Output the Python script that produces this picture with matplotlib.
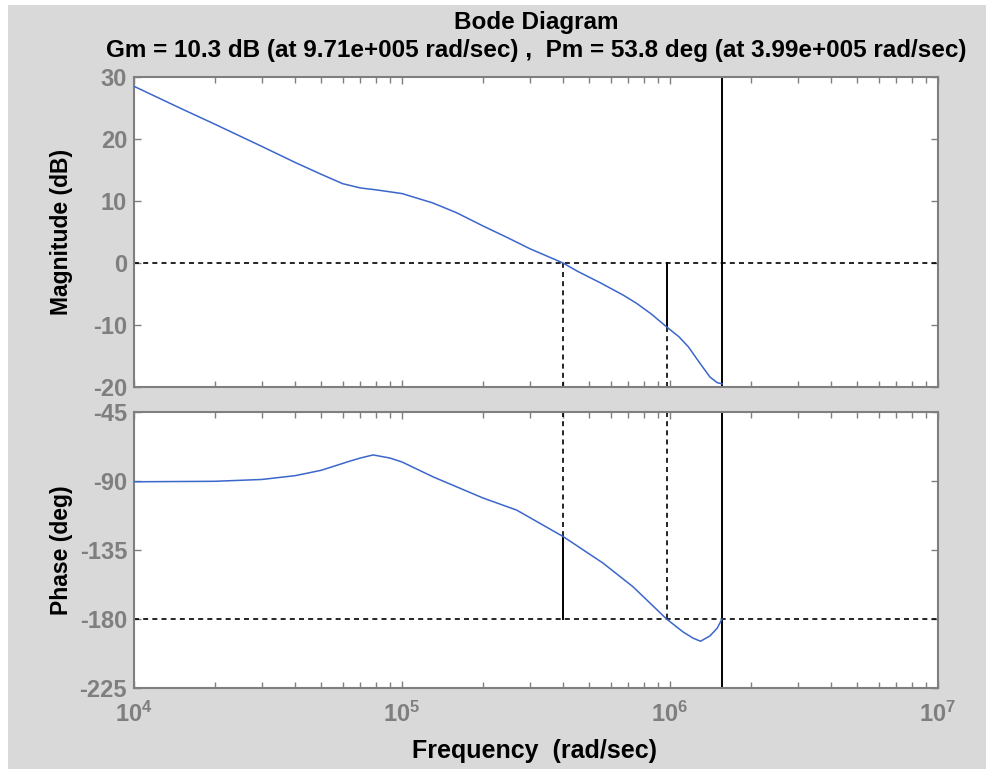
import matplotlib
matplotlib.use("Agg")
import matplotlib.pyplot as plt
from matplotlib.patches import Rectangle
import numpy as np

# Bode data (rad/sec, dB, deg)
freq_mag = [1e4, 1.5e4, 2e4, 3e4, 4e4, 5e4, 6e4, 7e4, 8e4, 1e5, 1.3e5, 1.6e5,
            2e5, 2.5e5, 3e5, 3.99e5, 4.5e5, 5.5e5, 6.7e5, 7.5e5, 8.5e5, 9.71e5,
            1.08e6, 1.17e6, 1.29e6, 1.41e6, 1.5e6, 1.563e6]
mag_db = [28.5, 24.9, 22.4, 18.8, 16.2, 14.3, 12.8, 12.1, 11.8, 11.2, 9.7, 8.1,
          6.0, 4.0, 2.3, 0.0, -1.3, -3.2, -5.2, -6.5, -8.2, -10.3,
          -11.9, -13.5, -16.1, -18.4, -19.3, -19.5]

freq_ph = [1e4, 2e4, 3e4, 4e4, 5e4, 6.4e4, 7e4, 7.8e4, 9e4, 1e5, 1.31e5, 2e5,
           2.68e5, 3.99e5, 5.62e5, 7.28e5, 9.71e5, 1.12e6, 1.22e6, 1.3e6,
           1.41e6, 1.5e6, 1.563e6]
phase_deg = [-90.5, -90.2, -89.0, -86.5, -83.0, -77.0, -75.0, -73.0, -75.0, -77.6,
             -87.4, -101.0, -109.0, -126.2, -143.5, -159.0, -180.0, -188.5,
             -192.5, -194.5, -191.0, -186.0, -180.0]

gm_db = 10.3
w_gm = 9.71e5
pm_deg = 53.8
w_pm = 3.99e5
w_end = 1.563e6

mag_ticks = [-20, -10, 0, 10, 20, 30]
ph_ticks = [-225, -180, -135, -90, -45]
x_ticks = [1e4, 1e5, 1e6, 1e7]
x_ticklabels = [r"$10^{4}$", r"$10^{5}$", r"$10^{6}$", r"$10^{7}$"]

plt.rcParams['font.family'] = ['Liberation Sans', 'DejaVu Sans']
plt.rcParams['mathtext.fontset'] = 'custom'
plt.rcParams['mathtext.rm'] = 'Liberation Sans:bold'
plt.rcParams['mathtext.it'] = 'Liberation Sans:bold'
plt.rcParams['axes.unicode_minus'] = False

GRIS = "#7f7f7f"
AZUL = "#3b66cc"
FONDO = "#d9d9d9"

fig = plt.figure(figsize=(9.87, 7.69), dpi=100)
fig.patch.set_facecolor("white")
fig.patches.append(Rectangle((8 / 987, 0), 1, 764 / 769, transform=fig.transFigure,
                             facecolor=FONDO, edgecolor="none", zorder=-10))

ax1 = fig.add_axes([134 / 987, 1 - 387 / 769, 804 / 987, 310 / 769])
ax2 = fig.add_axes([134 / 987, 1 - 688 / 769, 804 / 987, 276 / 769])

dash = (0, (3, 2.5))

# magnitud
ax1.plot(freq_mag, mag_db, color=AZUL, lw=1.1, zorder=3)
ax1.axhline(0, color="black", lw=1.2, ls=dash, zorder=2)
mag_pm = np.interp(np.log10(w_pm), np.log10(freq_mag), mag_db)
ax1.plot([w_pm, w_pm], [-20, mag_pm], color="black", lw=1.2, ls=dash, zorder=2)
ax1.plot([w_gm, w_gm], [0, -gm_db], color="black", lw=1.4, zorder=2)
ax1.plot([w_gm, w_gm], [-gm_db, -20], color="black", lw=1.2, ls=dash, zorder=2)
ax1.axvline(w_end, color="black", lw=1.4, zorder=2)
ax1.set_ylim(-20, 30)
ax1.set_yticks(mag_ticks)

# fase
ax2.plot(freq_ph, phase_deg, color=AZUL, lw=1.1, zorder=3)
ax2.axhline(-180, color="black", lw=1.2, ls=dash, zorder=2)
ph_pm = -180 + pm_deg
ax2.plot([w_pm, w_pm], [-45, ph_pm], color="black", lw=1.2, ls=dash, zorder=2)
ax2.plot([w_pm, w_pm], [ph_pm, -180], color="black", lw=1.4, zorder=2)
ax2.plot([w_gm, w_gm], [-45, -180], color="black", lw=1.2, ls=dash, zorder=2)
ax2.axvline(w_end, color="black", lw=1.4, zorder=2)
ax2.set_ylim(-225, -45)
ax2.set_yticks(ph_ticks)

for ax in (ax1, ax2):
    ax.set_xscale("log")
    ax.set_xlim(1e4, 1e7)
    ax.set_facecolor("white")
    for spine in ax.spines.values():
        spine.set_edgecolor(GRIS)
        spine.set_linewidth(1.5)
    ax.tick_params(which="both", direction="in", top=True, right=True,
                   color=GRIS, labelcolor=GRIS, labelsize=17, width=1.0)
    ax.tick_params(which="major", length=5, pad=5)
    ax.tick_params(which="minor", length=4)
    ax.set_xticks(x_ticks)
    for lbl in ax.get_yticklabels():
        lbl.set_fontweight("bold")

ax1.set_xticklabels([])
ax2.set_xticklabels(x_ticklabels)
ax2.tick_params(axis="x", which="major", pad=10)

fig.text(536 / 987, 1 - 23 / 769, "Bode Diagram", ha="center", va="center",
         fontsize=17.5, fontweight="bold")
fig.text(536 / 987, 1 - 50 / 769,
         "Gm = 10.3 dB (at 9.71e+005 rad/sec) ,  Pm = 53.8 deg (at 3.99e+005 rad/sec)",
         ha="center", va="center", fontsize=17.5, fontweight="bold")
fig.text(62 / 987, 1 - 232 / 769, "Magnitude (dB)", rotation=90, ha="center",
         va="center", fontsize=16.5, fontweight="bold")
fig.text(62 / 987, 1 - 550 / 769, "Phase (deg)", rotation=90, ha="center",
         va="center", fontsize=16.5, fontweight="bold")
fig.text(535 / 987, 1 - 758 / 769, "Frequency  (rad/sec)", ha="center",
         va="baseline", fontsize=18, fontweight="bold")

fig.savefig("out.png", dpi=100, facecolor=fig.get_facecolor())
